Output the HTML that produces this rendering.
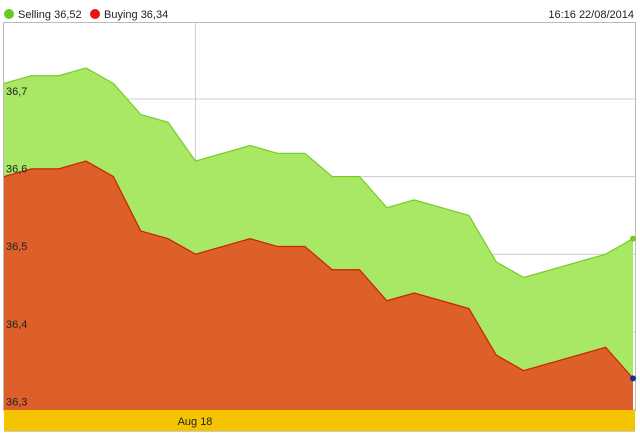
<!DOCTYPE html>
<html><head><meta charset="utf-8"><style>
body{margin:0;background:#fff;font-family:"Liberation Sans",sans-serif}
svg{display:block}
</style></head><body>
<svg width="640" height="436">
<g font-size="11" fill="#222">
 <circle cx="9" cy="14" r="5" fill="#66cc22"/>
 <text x="18" y="18">Selling 36,52</text>
 <circle cx="95" cy="14" r="5" fill="#ee1111"/>
 <text x="104" y="18">Buying 36,34</text>
 <text x="634" y="18" text-anchor="end">16:16 22/08/2014</text>
</g>
<rect x="3.5" y="22.5" width="632" height="388" fill="none" stroke="#bbb"/>
<g id="grid"></g>
<g id="series"></g>
<g id="labels"></g>
<rect x="4" y="410" width="631" height="21" fill="#f5c400"/>
<line x1="4" y1="431.5" x2="635" y2="431.5" stroke="#ccc"/>
<text x="195" y="425" font-size="11" text-anchor="middle" fill="#222">Aug 18</text>
</svg>
<script>
const selling=[36.72,36.73,36.73,36.74,36.72,36.68,36.67,36.62,36.63,36.64,36.63,36.63,36.60,36.60,36.56,36.57,36.56,36.55,36.49,36.47,36.48,36.49,36.50,36.52];
const buying=[36.60,36.61,36.61,36.62,36.60,36.53,36.52,36.50,36.51,36.52,36.51,36.51,36.48,36.48,36.44,36.45,36.44,36.43,36.37,36.35,36.36,36.37,36.38,36.34];
const yTicks=[36.7,36.6,36.5,36.4,36.3];
const yTickLabels=["36,7","36,6","36,5","36,4","36,3"];
const NS="http://www.w3.org/2000/svg";
const x0=4,x1=633,n=selling.length;
function X(i){return x0+(x1-x0)*i/(n-1);}
function Y(v){return 99+(36.7-v)*776;}
const base=410;
const grid=document.getElementById('grid'),ser=document.getElementById('series'),lab=document.getElementById('labels');
function mk(t,a,p){const e=document.createElementNS(NS,t);for(const k in a)e.setAttribute(k,a[k]);p.appendChild(e);return e;}
yTicks.forEach((v,i)=>{
 const l=mk('line',{x1:4,x2:635,y1:Y(v),y2:Y(v),stroke:'#ccc'},grid);
 
 
 const t=mk('text',{x:6,y:Y(v)-4,'font-size':11,fill:'#222'},lab);
 t.textContent=yTickLabels[i];
 
 
});
const vl=mk('line',{x1:X(7),x2:X(7),y1:22,y2:410,stroke:'#ccc'},grid);


function area(vals,fill,stroke,name){
 let d='M'+X(0)+','+base;
 vals.forEach((v,i)=>d+=' L'+X(i)+','+Y(v));
 d+=' L'+X(n-1)+','+base+' Z';
 const a=mk('path',{d:d,fill:fill},ser);
 
 
 const pl=mk('polyline',{points:vals.map((v,i)=>X(i)+','+Y(v)).join(' '),fill:'none',stroke:stroke,'stroke-width':1.2},ser);
 
 
}
area(selling,'#a8e864','#77cc22','selling');
area(buying,'#dd5f2a','#cc2200','buying');
const d1=mk('circle',{cx:X(n-1),cy:Y(selling[n-1]),r:3,fill:'#77cc22'},ser);


const d2=mk('circle',{cx:X(n-1),cy:Y(buying[n-1]),r:3,fill:'#113388'},ser);


</script>
</body></html>
